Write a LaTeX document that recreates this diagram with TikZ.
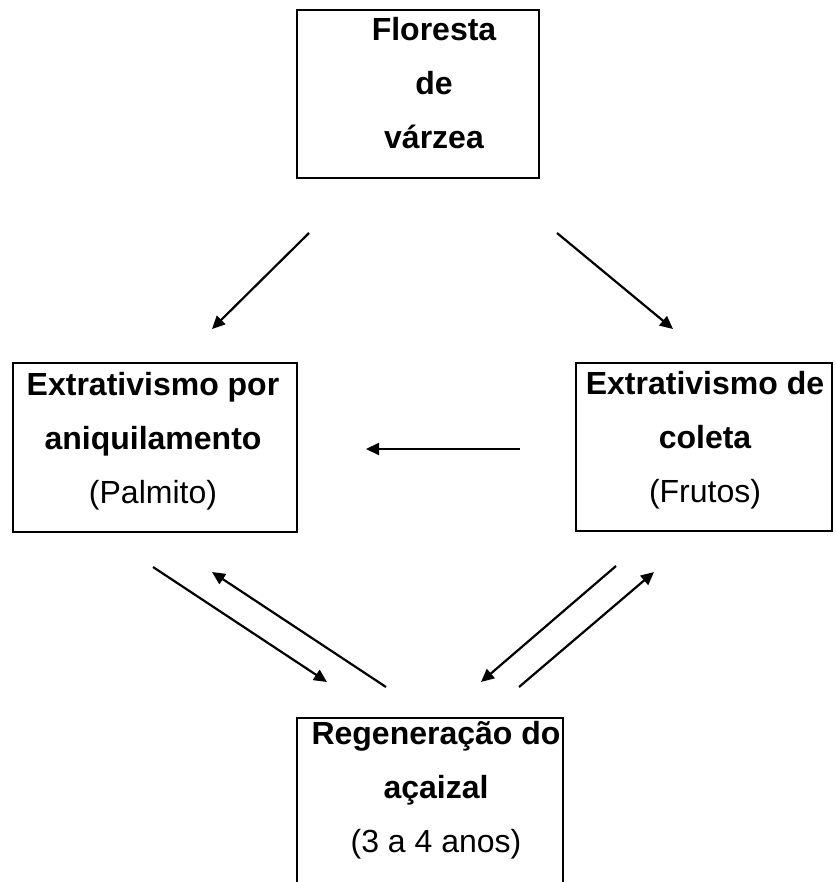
\documentclass[tikz,border=0pt]{standalone}
\usepackage{fontspec}
\setmainfont{Liberation Sans}
\usepackage{tikz}
\usetikzlibrary{arrows.meta}
\tikzset{
  caixa/.style={draw,line width=2.4pt,inner sep=0pt},
  rotulo/.style={align=center,inner sep=0pt,anchor=north,
    font=\fontsize{32}{54}\selectfont\bfseries},
  seta/.style={line width=2.2pt,-{Triangle[length=13pt,width=12pt]}}
}
\begin{document}
\begin{tikzpicture}[x=1pt,y=-1pt]
  \useasboundingbox (0,0) rectangle (835,882);
  % caixas
  \node[caixa,minimum width=242,minimum height=168] (floresta) at (418,94) {};
  \node[caixa,minimum width=284,minimum height=169] (aniq) at (155,447.5) {};
  \node[caixa,minimum width=256,minimum height=168] (coleta) at (704,447) {};
  \node[caixa,minimum width=266,minimum height=200] (regen) at (430,818) {};
  % textos
  \node[rotulo] (floresta-t) at (434,17) {Floresta\\de\\várzea};
  \node[rotulo] (aniq-t) at (153,372) {Extrativismo por\\aniquilamento\\{\mdseries (Palmito)}};
  \node[rotulo] (coleta-t) at (705,371) {Extrativismo de\\coleta\\{\mdseries (Frutos)}};
  \node[rotulo] (regen-t) at (436,721) {Regeneração do\\açaizal\\{\mdseries (3 a 4 anos)}};
  % setas
  \coordinate (s1a) at (309,233); \coordinate (s1b) at (212,329);
  \coordinate (s2a) at (557,233); \coordinate (s2b) at (673,329);
  \coordinate (s3a) at (520,449); \coordinate (s3b) at (366,449);
  \coordinate (s4a) at (153,567); \coordinate (s4b) at (327,682);
  \coordinate (s5a) at (386,687); \coordinate (s5b) at (212,572);
  \coordinate (s6a) at (616,566); \coordinate (s6b) at (481,682);
  \coordinate (s7a) at (519,687); \coordinate (s7b) at (654,572);
  \foreach \a/\b in {s1a/s1b,s2a/s2b,s3a/s3b,s4a/s4b,s5a/s5b,s6a/s6b,s7a/s7b}
    \draw[seta] (\a) -- (\b);
\end{tikzpicture}
\end{document}
